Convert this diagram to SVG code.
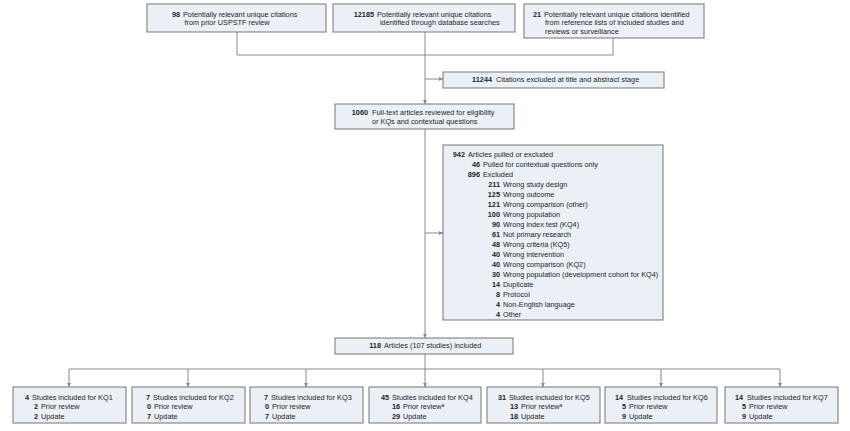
<svg xmlns="http://www.w3.org/2000/svg" width="850" height="431" viewBox="0 0 850 431">
<style>
  .box { fill: #eaf0f5; stroke: #808080; stroke-width: 1.1; }
  .ln { fill: none; stroke: #8a8a8a; stroke-width: 1; }
  text { font-family: "Liberation Sans", Arial, sans-serif; font-size: 7.3px; fill: #1e1e1e; }
  .n { font-weight: bold; text-anchor: end; }
  .sup { font-size: 5px; }
</style>
<defs>
  <marker id="ah" viewBox="0 0 6 6" refX="6" refY="3" markerWidth="4.5" markerHeight="4.5" orient="auto" markerUnits="userSpaceOnUse">
    <path d="M0,0 L6,3 L0,6 z" fill="#8a8a8a"/>
  </marker>
</defs>
<rect width="850" height="431" fill="#ffffff"/>

<g id="connectors">
  <path class="ln" d="M237 32 V55 M613 38 V55 M237 55 H613"/>
  <path class="ln" d="M425 32 V104" marker-end="url(#ah)"/>
  <path class="ln" d="M425 79 H443" marker-end="url(#ah)"/>
  <path class="ln" d="M425 129 V338" marker-end="url(#ah)"/>
  <path class="ln" d="M425 233 H443" marker-end="url(#ah)"/>
  <path class="ln" d="M425 354 V369 M69 369 H780"/>
  <path class="ln" d="M69 369 V387" marker-end="url(#ah)"/>
  <path class="ln" d="M188 369 V387" marker-end="url(#ah)"/>
  <path class="ln" d="M306 369 V387" marker-end="url(#ah)"/>
  <path class="ln" d="M425 369 V387" marker-end="url(#ah)"/>
  <path class="ln" d="M543 369 V387" marker-end="url(#ah)"/>
  <path class="ln" d="M661 369 V387" marker-end="url(#ah)"/>
  <path class="ln" d="M780 369 V387" marker-end="url(#ah)"/>
</g>

<g id="src-prior">
  <rect class="box" x="147" y="4" width="179" height="28"/>
  <text class="n" x="180" y="16.5">98</text>
  <text x="183" y="16.5">Potentially relevant unique citations</text>
  <text x="184.5" y="25">from prior USPSTF review</text>
</g>
<g id="src-db">
  <rect class="box" x="333" y="4" width="182" height="28"/>
  <text class="n" x="374" y="16.5">12185</text>
  <text x="377" y="16.5">Potentially relevant unique citations</text>
  <text x="380" y="25">identified through database searches</text>
</g>
<g id="src-ref">
  <rect class="box" x="524" y="4" width="180" height="34"/>
  <text class="n" x="541" y="16.5">21</text>
  <text x="544" y="16.5">Potentially relevant unique citations identified</text>
  <text x="545" y="25">from reference lists of included studies and</text>
  <text x="545" y="33.5">reviews or surveillance</text>
</g>
<g id="excl-title">
  <rect class="box" x="443" y="72" width="221" height="16"/>
  <text class="n" x="492" y="82">11244</text>
  <text x="496" y="82">Citations excluded at title and abstract stage</text>
</g>
<g id="fulltext">
  <rect class="box" x="335" y="104" width="179" height="25"/>
  <text class="n" x="368" y="114.5">1060</text>
  <text x="372" y="114.5">Full-text articles reviewed for eligibility</text>
  <text x="372" y="123.5">or KQs and contextual questions</text>
</g>
<g id="excluded">
  <rect class="box" x="443" y="145" width="220" height="175"/>
  <text class="n" x="465" y="156.5">942</text><text x="468" y="156.5">Articles pulled or excluded</text>
  <text class="n" x="480" y="166.5">46</text><text x="483" y="166.5">Pulled for contextual questions only</text>
  <text class="n" x="480" y="176.5">896</text><text x="483" y="176.5">Excluded</text>
  <text class="n" x="500" y="186.5">211</text><text x="503" y="186.5">Wrong study design</text>
  <text class="n" x="500" y="196.5">125</text><text x="503" y="196.5">Wrong outcome</text>
  <text class="n" x="500" y="206.5">121</text><text x="503" y="206.5">Wrong comparison (other)</text>
  <text class="n" x="500" y="216.5">100</text><text x="503" y="216.5">Wrong population</text>
  <text class="n" x="500" y="226.5">90</text><text x="503" y="226.5">Wrong index test (KQ4)</text>
  <text class="n" x="500" y="236.5">61</text><text x="503" y="236.5">Not primary research</text>
  <text class="n" x="500" y="246.5">48</text><text x="503" y="246.5">Wrong criteria (KQ5)</text>
  <text class="n" x="500" y="256.5">40</text><text x="503" y="256.5">Wrong intervention</text>
  <text class="n" x="500" y="266.5">40</text><text x="503" y="266.5">Wrong comparison (KQ2)</text>
  <text class="n" x="500" y="276.5">30</text><text x="503" y="276.5">Wrong population (development cohort for KQ4)</text>
  <text class="n" x="500" y="286.5">14</text><text x="503" y="286.5">Duplicate</text>
  <text class="n" x="500" y="296.5">8</text><text x="503" y="296.5">Protocol</text>
  <text class="n" x="500" y="306.5">4</text><text x="503" y="306.5">Non-English language</text>
  <text class="n" x="500" y="316.5">4</text><text x="503" y="316.5">Other</text>
</g>
<g id="included">
  <rect class="box" x="335" y="338" width="178" height="16"/>
  <text class="n" x="381" y="348">118</text>
  <text x="384" y="348">Articles (107 studies) included</text>
</g>

<g id="kq1">
  <rect class="box" x="13" y="387" width="113" height="36"/>
  <text class="n" x="29" y="399.5">4</text><text x="32" y="399.5">Studies included for KQ1</text>
  <text class="n" x="38" y="409">2</text><text x="41" y="409">Prior review</text>
  <text class="n" x="38" y="418.5">2</text><text x="41" y="418.5">Update</text>
</g>
<g id="kq2">
  <rect class="box" x="132" y="387" width="113" height="36"/>
  <text class="n" x="150" y="399.5">7</text><text x="153" y="399.5">Studies included for KQ2</text>
  <text class="n" x="151" y="409">0</text><text x="154" y="409">Prior review</text>
  <text class="n" x="151" y="418.5">7</text><text x="154" y="418.5">Update</text>
</g>
<g id="kq3">
  <rect class="box" x="250" y="387" width="113" height="36"/>
  <text class="n" x="268" y="399.5">7</text><text x="271" y="399.5">Studies included for KQ3</text>
  <text class="n" x="269" y="409">0</text><text x="272" y="409">Prior review</text>
  <text class="n" x="269" y="418.5">7</text><text x="272" y="418.5">Update</text>
</g>
<g id="kq4">
  <rect class="box" x="369" y="387" width="112" height="36"/>
  <text class="n" x="389" y="399.5">45</text><text x="392" y="399.5">Studies included for KQ4</text>
  <text class="n" x="400" y="409">16</text><text x="403" y="409">Prior review<tspan class="sup" dy="-2.5">a</tspan></text>
  <text class="n" x="400" y="418.5">29</text><text x="403" y="418.5">Update</text>
</g>
<g id="kq5">
  <rect class="box" x="487" y="387" width="113" height="36"/>
  <text class="n" x="506" y="399.5">31</text><text x="509" y="399.5">Studies included for KQ5</text>
  <text class="n" x="518" y="409">13</text><text x="521" y="409">Prior review<tspan class="sup" dy="-2.5">a</tspan></text>
  <text class="n" x="518" y="418.5">18</text><text x="521" y="418.5">Update</text>
</g>
<g id="kq6">
  <rect class="box" x="605" y="387" width="112" height="36"/>
  <text class="n" x="623" y="399.5">14</text><text x="627" y="399.5">Studies included for KQ6</text>
  <text class="n" x="626" y="409">5</text><text x="629" y="409">Prior review</text>
  <text class="n" x="626" y="418.5">9</text><text x="629" y="418.5">Update</text>
</g>
<g id="kq7">
  <rect class="box" x="725" y="387" width="113" height="36"/>
  <text class="n" x="743" y="399.5">14</text><text x="747" y="399.5">Studies included for KQ7</text>
  <text class="n" x="746" y="409">5</text><text x="749" y="409">Prior review</text>
  <text class="n" x="746" y="418.5">9</text><text x="749" y="418.5">Update</text>
</g>
</svg>
